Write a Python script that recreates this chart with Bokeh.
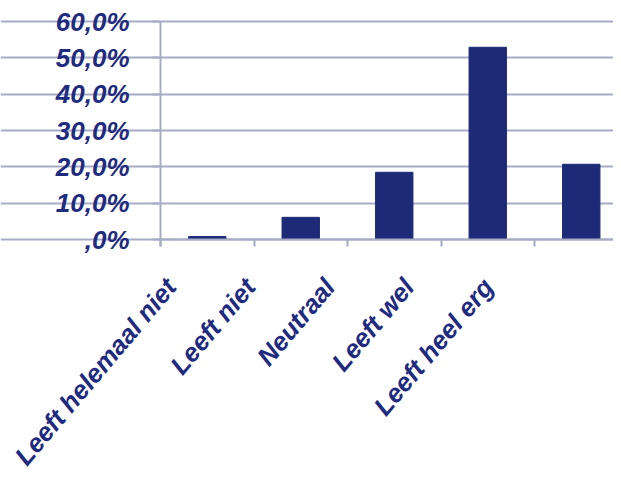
from bokeh.plotting import figure
from bokeh.models import Range1d, FixedTicker, LinearAxis, ColumnDataSource
from bokeh.core.properties import value
from bokeh.embed import file_html
from bokeh.resources import INLINE

categories = ["Leeft helemaal niet", "Leeft niet", "Neutraal", "Leeft wel", "Leeft heel erg"]
values = [0.8, 6.1, 18.5, 52.9, 20.7]
y_ticks = [0, 10, 20, 30, 40, 50, 60]
y_tick_labels = [",0%", "10,0%", "20,0%", "30,0%", "40,0%", "50,0%", "60,0%"]

NAVY = "#1c2a78"
TEXT = "#1f2b7f"
GRID = "#a8abc4"
FONT = "Liberation Sans"

W, H = 613, 469
AXIS_X_PX = 160.0             # y axis position from canvas left
TOP_PX = 21.0                 # 60 % line from canvas top
PX_PER_PCT = 218.0 / 60.0     # vertical scale of the value axis
PX_PER_CAT = 93.5             # width of one category slot

xs = [i + 0.5 for i in range(len(categories))]

x_range = Range1d(-AXIS_X_PX / PX_PER_CAT, (W - AXIS_X_PX) / PX_PER_CAT)
y_range = Range1d(60.0 - (H - TOP_PX) / PX_PER_PCT, 60.0 + TOP_PX / PX_PER_PCT)

p = figure(width=W, height=H, output_backend="svg", toolbar_location=None,
           x_range=x_range, y_range=y_range,
           x_axis_location=None, y_axis_location=None,
           min_border_left=0, min_border_top=0, min_border_bottom=0, min_border_right=0)
p.outline_line_color = None
p.background_fill_color = "white"
p.border_fill_color = "white"
p.xgrid.grid_line_color = None
p.ygrid.ticker = FixedTicker(ticks=y_ticks)
p.ygrid.grid_line_color = GRID
p.ygrid.grid_line_width = 2
p.ygrid.bounds = (0, (W - AXIS_X_PX) / PX_PER_CAT)

p.vbar(x=xs, top=values, width=0.40, fill_color=NAVY, line_color=NAVY)

# value axis line with outward ticks (labels drawn as text below)
yaxis = LinearAxis(fixed_location=0, ticker=FixedTicker(ticks=[], minor_ticks=y_ticks),
                   bounds=(-7.0 / PX_PER_PCT, 60),
                   axis_line_color=GRID, axis_line_width=2,
                   major_tick_line_color=None,
                   minor_tick_line_color=GRID, minor_tick_line_width=2,
                   minor_tick_out=8, minor_tick_in=0)
p.add_layout(yaxis, "left")

# category axis line with tick marks on the slot boundaries
xaxis = LinearAxis(fixed_location=0,
                   ticker=FixedTicker(ticks=[], minor_ticks=list(range(len(categories)))),
                   bounds=(0, (W - AXIS_X_PX) / PX_PER_CAT),
                   axis_line_color=GRID, axis_line_width=2,
                   major_tick_line_color=None,
                   minor_tick_line_color=GRID, minor_tick_line_width=2,
                   minor_tick_out=7, minor_tick_in=0)
p.add_layout(xaxis, "below")

# value labels
ysrc = ColumnDataSource(dict(x=[-31.0 / PX_PER_CAT] * len(y_ticks), y=y_ticks, text=y_tick_labels))
p.text(x="x", y="y", text="text", source=ysrc, text_align="right", text_baseline="middle",
       text_font=value(FONT), text_font_style="bold italic",
       text_font_size="26px", text_color=TEXT)

# slanted category names (the reference packs them closer together than the bars)
lab_x = [(-1.0 + 79.3 * i) / PX_PER_CAT for i in range(len(categories))]
lab_y = [-33.0 / PX_PER_PCT] * len(categories)
src = ColumnDataSource(dict(x=lab_x, y=lab_y, text=categories))
p.text(x="x", y="y", text="text", source=src, angle=0.87,
       text_align="right", text_baseline="top",
       text_font=value(FONT), text_font_style="bold italic",
       text_font_size="26px", text_color=TEXT)

open("out.html", "w").write(file_html(p, INLINE))
